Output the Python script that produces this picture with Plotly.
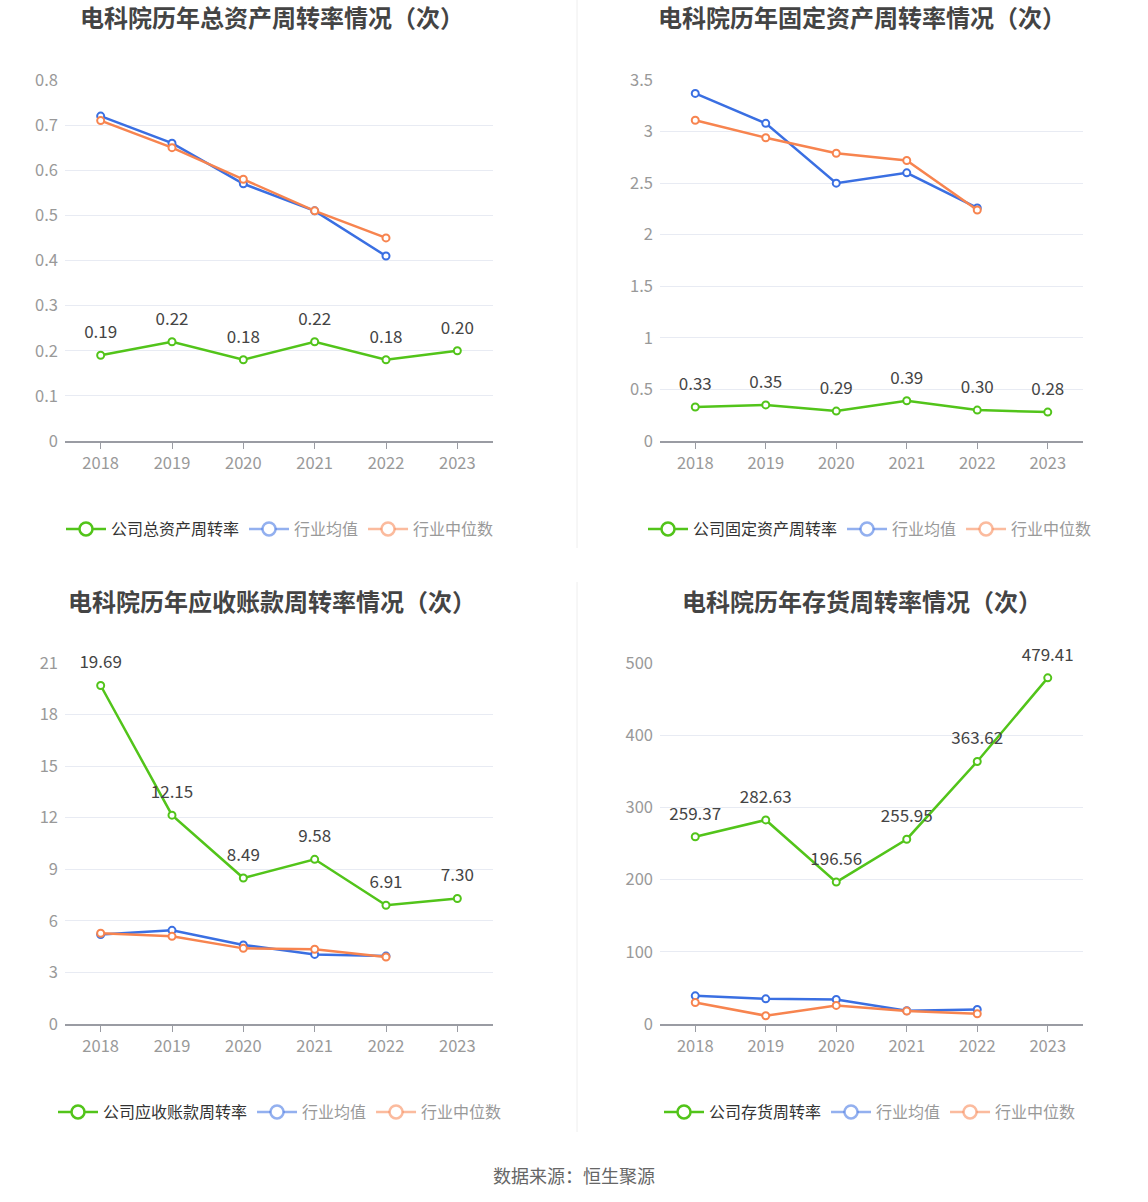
import plotly.graph_objects as go

years = ["2018", "2019", "2020", "2021", "2022", "2023"]
years_ind = ["2018", "2019", "2020", "2021", "2022"]

titles = ["电科院历年总资产周转率情况（次）", "电科院历年固定资产周转率情况（次）",
          "电科院历年应收账款周转率情况（次）", "电科院历年存货周转率情况（次）"]
company_names = ["公司总资产周转率", "公司固定资产周转率", "公司应收账款周转率", "公司存货周转率"]

# total asset turnover
total_company = [0.19, 0.22, 0.18, 0.22, 0.18, 0.20]
total_avg = [0.72, 0.66, 0.57, 0.51, 0.41]
total_median = [0.71, 0.65, 0.58, 0.51, 0.45]

# fixed asset turnover
fixed_company = [0.33, 0.35, 0.29, 0.39, 0.30, 0.28]
fixed_avg = [3.37, 3.08, 2.50, 2.60, 2.26]
fixed_median = [3.11, 2.94, 2.79, 2.72, 2.24]

# receivables turnover
recv_company = [19.69, 12.15, 8.49, 9.58, 6.91, 7.30]
recv_avg = [5.20, 5.45, 4.60, 4.05, 3.95]
recv_median = [5.28, 5.10, 4.40, 4.35, 3.90]

# inventory turnover
inv_company = [259.37, 282.63, 196.56, 255.95, 363.62, 479.41]
inv_avg = [39.0, 34.8, 34.0, 18.3, 20.2]
inv_median = [29.8, 11.5, 25.7, 17.9, 14.2]

y_ranges = [[0, 0.8], [0, 3.5], [0, 21], [0, 500]]
y_dticks = [0.1, 0.5, 3, 100]

datasets = [
    (total_company, total_avg, total_median),
    (fixed_company, fixed_avg, fixed_median),
    (recv_company, recv_avg, recv_median),
    (inv_company, inv_avg, inv_median),
]

W, H = 1148, 1202
GREEN = "#52c41a"
BLUE = "#3a6fe2"
ORANGE = "#f7844f"
FONT = "Noto Sans CJK SC"

# pixel boxes: (left, right, top, bottom)
boxes = [(65, 493, 80, 441), (660, 1083, 80, 441),
         (65, 493, 663, 1024), (660, 1083, 663, 1024)]
title_pos = [(272, 17), (862, 17), (272, 600), (862, 600)]
legend_pos = [(280, 529), (870, 529), (280, 1112), (870, 1112)]

fig = go.Figure()
layout = {}

for i, (comp, avg, med) in enumerate(datasets):
    n = "" if i == 0 else str(i + 1)
    xa, ya = "x" + n, "y" + n
    lg = "legend" + n
    l, r, t, b = boxes[i]
    layout["xaxis" + n] = dict(
        domain=[l / W, r / W], anchor=ya, type="category",
        categoryorder="array", categoryarray=years, range=[-0.5, 5.5],
        showgrid=False, showline=True, linecolor="#9a9ca3", linewidth=1.5,
        ticks="outside", ticklen=6, tickcolor="#9a9ca3",
        tickfont=dict(size=16.5, color="#999999", family=FONT), fixedrange=True,
    )
    layout["yaxis" + n] = dict(
        domain=[1 - b / H, 1 - t / H], anchor=xa, range=y_ranges[i],
        dtick=y_dticks[i], showgrid=True, gridcolor="#e8ebf3", gridwidth=1,
        zeroline=False, showline=False, ticks="", ticklabelstandoff=6,
        tickfont=dict(size=16.5, color="#999999", family=FONT), fixedrange=True,
    )
    fig.add_trace(go.Scatter(
        x=years, y=comp, xaxis=xa, yaxis=ya, mode="lines+markers",
        line=dict(color=GREEN, width=2.5),
        marker=dict(symbol="circle", size=7, color="white", line=dict(color=GREEN, width=2)),
        showlegend=False, cliponaxis=False,
    ))
    # value labels (invisible larger markers give the label its offset)
    fig.add_trace(go.Scatter(
        x=years, y=comp, xaxis=xa, yaxis=ya, mode="markers+text",
        text=[f"{v:.2f}" for v in comp], textposition="top center",
        textfont=dict(size=17, color="#444444", family=FONT),
        marker=dict(size=19, color="rgba(0,0,0,0)"),
        showlegend=False, cliponaxis=False,
    ))
    fig.add_trace(go.Scatter(
        x=years_ind, y=avg, xaxis=xa, yaxis=ya, mode="lines+markers",
        line=dict(color=BLUE, width=2.5),
        marker=dict(symbol="circle", size=7, color="white", line=dict(color=BLUE, width=2)),
        showlegend=False, cliponaxis=False,
    ))
    fig.add_trace(go.Scatter(
        x=years_ind, y=med, xaxis=xa, yaxis=ya, mode="lines+markers",
        line=dict(color=ORANGE, width=2.5),
        marker=dict(symbol="circle", size=7, color="white", line=dict(color=ORANGE, width=2)),
        showlegend=False, cliponaxis=False,
    ))
    # legend entries
    legend_items = [
        (company_names[i], GREEN, "#333333"),
        ("行业均值", "rgba(58,111,226,0.55)", "#999999"),
        ("行业中位数", "rgba(247,132,79,0.55)", "#999999"),
    ]
    for name, col, tcol in legend_items:
        fig.add_trace(go.Scatter(
            x=[None], y=[None], xaxis=xa, yaxis=ya, mode="lines+markers",
            name=f"<span style='color:{tcol}'>{name}</span>",
            line=dict(color=col, width=2.5),
            marker=dict(symbol="circle", size=13, color="white", line=dict(color=col, width=2.5)),
            legend=lg, showlegend=True,
        ))
    lx, ly = legend_pos[i]
    layout[lg] = dict(
        orientation="h", x=lx / W, y=1 - ly / H, xanchor="center", yanchor="middle",
        font=dict(size=16, family=FONT, color="#333333"), bgcolor="rgba(0,0,0,0)",
        itemsizing="trace", itemwidth=40, tracegroupgap=0, itemclick=False,
    )

annotations = []
for i, tt in enumerate(titles):
    tx, ty = title_pos[i]
    annotations.append(dict(
        text=f"<b>{tt}</b>", x=tx / W, y=1 - ty / H, xref="paper", yref="paper",
        xanchor="center", yanchor="middle", showarrow=False,
        font=dict(size=24, color="#444444", family=FONT),
    ))
annotations.append(dict(
    text="数据来源：恒生聚源", x=0.5, y=1 - 1175 / H, xref="paper", yref="paper",
    xanchor="center", yanchor="middle", showarrow=False,
    font=dict(size=18, color="#666666", family=FONT),
))

shapes = [
    dict(type="line", xref="paper", yref="paper", x0=577 / W, x1=577 / W,
         y0=1 - 548 / H, y1=1.0, line=dict(color="#eeeeee", width=1)),
    dict(type="line", xref="paper", yref="paper", x0=577 / W, x1=577 / W,
         y0=1 - 1132 / H, y1=1 - 582 / H, line=dict(color="#eeeeee", width=1)),
]

fig.update_layout(
    width=W, height=H, margin=dict(l=0, r=0, t=0, b=0, autoexpand=False),
    paper_bgcolor="white", plot_bgcolor="white",
    font=dict(family=FONT), annotations=annotations, shapes=shapes,
    hovermode=False, **layout,
)

fig.write_html("out.html", config={"displayModeBar": False},
               post_script="document.body.style.margin='0';")
